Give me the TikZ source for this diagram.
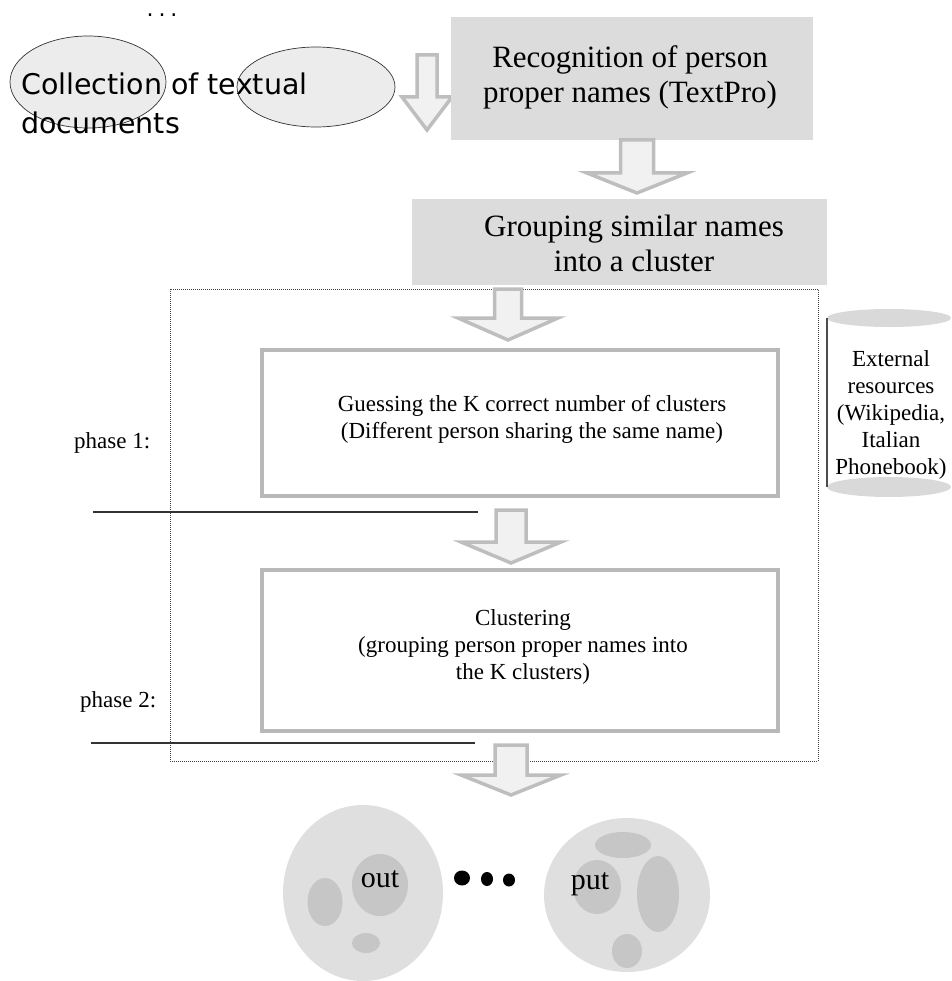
\documentclass[tikz,border=0pt]{standalone}
\usepackage{fontspec}
\setmainfont{Liberation Serif}
\newfontfamily\sansf{DejaVu Sans}
\usetikzlibrary{shapes.geometric}
\definecolor{boxgray}{HTML}{DCDCDC}
\definecolor{framegray}{HTML}{B8B8B8}
\definecolor{arrowfill}{HTML}{F1F1F1}
\definecolor{arrowline}{HTML}{BEBEBE}
\definecolor{blobout}{HTML}{DFDFDF}
\definecolor{blobin}{HTML}{C6C6C6}
\definecolor{docfill}{HTML}{ECECEC}
\definecolor{cylend}{HTML}{D9D9D9}
\tikzset{
  graybox/.style={fill=boxgray, draw=none, inner sep=0},
  framebox/.style={draw=framegray, line width=4pt, fill=white, inner sep=0},
  bigtext/.style={font=\fontsize{31}{35}\selectfont, align=center, inner sep=0},
  smalltext/.style={font=\fontsize{23}{26.8}\selectfont, align=center, inner sep=0},
  docell/.style={ellipse, draw=black!80, line width=0.7pt, fill=docfill, inner sep=0},
  blob/.style={ellipse, fill=blobout, draw=none, inner sep=0},
  subblob/.style={ellipse, fill=blobin, draw=none, inner sep=0},
  arrowst/.style={draw=arrowline, fill=arrowfill, line width=3.5pt, line join=miter},
  phaseline/.style={draw=black!80, line width=1.2pt},
  pics/barrow/.style n args={4}{code={
    \path[arrowst] (-#1,0) -- (#1,0) -- (#1,#3-#4) -- (#2,#3-#4) -- (0,#3)
      -- (-#2,#3-#4) -- (-#1,#3-#4) -- cycle;
  }}
}
\begin{document}
\begin{tikzpicture}[x=1pt,y=-1pt]
\useasboundingbox (0,0) rectangle (951,981);

% top left documents
\node[font=\sansf\fontsize{22}{24}\selectfont, inner sep=0, anchor=base] (dots) at (162,17) {.\hspace{5pt}.\hspace{5pt}.};
\node[docell, minimum width=156, minimum height=92] (doc1) at (88,82) {};
\node[docell, minimum width=158, minimum height=80] (doc2) at (316,87) {};
\node[font=\sansf\fontsize{28.5}{39}\selectfont, align=left, anchor=west, inner sep=0] (coll) at (21,103) {Collection of textual\\documents};

% arrow 1
\coordinate (a1) at (427,55);
\pic at (a1) {barrow={10}{25}{75}{33}};

% recognition box
\node[graybox, minimum width=362, minimum height=123] (rec) at (632,78.5) {};
\node[bigtext] (rect) at (630,77) {Recognition of person\\proper names (TextPro)};

% arrow 2
\coordinate (a2) at (637,140);
\pic at (a2) {barrow={16.5}{50}{53}{20}};

% grouping box
\node[graybox, minimum width=415, minimum height=86] (grp) at (619.5,242) {};
\node[bigtext] (grpt) at (634,243) {Grouping similar names\\into a cluster};

% dotted frame
\draw[black!75, line width=0.8pt, dash pattern=on 1pt off 1pt] (170,289) rectangle (818,761);
\node[inner sep=0] (frame) at (494,525) {};

% arrow 3
\coordinate (a3) at (508,289);
\pic at (a3) {barrow={13.5}{50}{51}{22}};

% guessing box
\node[framebox, minimum width=516, minimum height=146] (guess) at (520,423) {};
\node[smalltext] (guesst) at (532,419) {Guessing the K correct number of clusters\\(Different person sharing the same name)};

\node[smalltext, anchor=west] (ph1) at (74,443) {phase 1:};
\coordinate (l1a) at (93,512);
\coordinate (l1b) at (478,512);
\draw[phaseline] (l1a) -- (l1b);

% arrow 4
\coordinate (a4) at (511,510);
\pic at (a4) {barrow={15}{50}{53}{21}};

% clustering box
\node[framebox, minimum width=516, minimum height=161] (clus) at (520,650.5) {};
\node[smalltext] (clust) at (523,647) {Clustering\\(grouping person proper names into\\the K clusters)};

\node[smalltext, anchor=west] (ph2) at (80,702) {phase 2:};
\coordinate (l2a) at (91,743);
\coordinate (l2b) at (475,743);
\draw[phaseline] (l2a) -- (l2b);

% arrow 5
\coordinate (a5) at (511,745);
\pic at (a5) {barrow={16}{50}{50}{20}};

% cylinder
\fill[white] (827,318) rectangle (951,487);
\fill[cylend] (889,487) ellipse [x radius=62, y radius=10];
\fill[cylend] (889,318) ellipse [x radius=62, y radius=9];
\draw[black!70, line width=1.3pt] (827,318) -- (827,487);
\node[smalltext] (ext) at (891,415) {External\\resources\\(Wikipedia,\\Italian\\Phonebook)};

% output clusters
\node[blob, minimum width=160, minimum height=176] (c1) at (363,893) {};
\node[subblob, minimum width=56, minimum height=62] (c1a) at (380,885) {};
\node[subblob, minimum width=35, minimum height=48] (c1b) at (325,902) {};
\node[subblob, minimum width=28, minimum height=20] (c1c) at (366,943) {};
\node[font=\fontsize{30}{34}\selectfont, inner sep=0] (out) at (380,879) {out};

\fill (462,878) ellipse [x radius=8, y radius=7.5];
\fill (487,879) ellipse [x radius=6, y radius=7];
\fill (509,880) ellipse [x radius=6, y radius=6.5];

\node[blob, minimum width=166, minimum height=154] (c2) at (627,895) {};
\node[subblob, minimum width=56, minimum height=26] (c2a) at (623,845) {};
\node[subblob, minimum width=48, minimum height=54] (c2b) at (597,887) {};
\node[subblob, minimum width=42, minimum height=76] (c2c) at (658,894) {};
\node[subblob, minimum width=30, minimum height=34] (c2d) at (627,951) {};
\node[font=\fontsize{30}{34}\selectfont, inner sep=0] (put) at (590,884) {put};
\end{tikzpicture}
\end{document}
